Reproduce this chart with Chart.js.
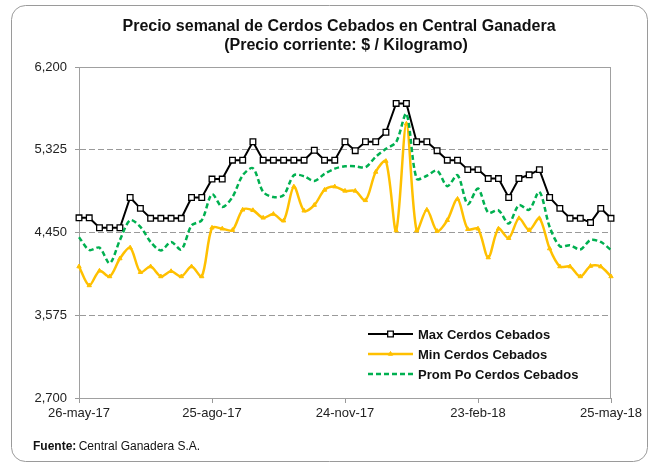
<!DOCTYPE html>
<html>
<head>
<meta charset="utf-8">
<script src="https://cdn.jsdelivr.net/npm/chart.js@4/dist/chart.umd.min.js"></script>
<style>
  html, body { margin: 0; padding: 0; background: #fff; }
  #wrap { width: 652px; height: 464px; position: relative; }
</style>
</head>
<body>
<div id="wrap"><canvas id="precios" width="652" height="464"></canvas></div>
<script>
var meses = ['ene', 'feb', 'mar', 'abr', 'may', 'jun', 'jul', 'ago', 'sep', 'oct', 'nov', 'dic']

// weekly dates, 26-may-17 .. 25-may-18
var semanas = []
var d = new Date(2017, 4, 26)
for (var k = 0; k < 53; k++) {
  semanas.push(d.getDate() + '-' + meses[d.getMonth()] + '-' + String(d.getFullYear()).slice(2))
  d.setDate(d.getDate() + 7)
}

var tickLabels = ['26-may-17', '25-ago-17', '24-nov-17', '23-feb-18', '25-may-18']
var yTicks = [2700, 3575, 4450, 5325, 6200]

var maxCerdos = [
  4605, 4605, 4500, 4500, 4500, 4820, 4705, 4600, 4600, 4600, 4600, 4820, 4820,
  5015, 5015, 5215, 5215, 5410, 5215, 5215, 5215, 5215, 5215, 5320, 5215, 5215,
  5410, 5315, 5410, 5410, 5510, 5815, 5815, 5410, 5410, 5315, 5215, 5215, 5115,
  5115, 5020, 5020, 4820, 5020, 5060, 5115, 4820, 4705, 4600, 4600, 4555, 4705, 4600
]
var minCerdos = [
  4090, 3890, 4045, 3985, 4175, 4290, 4030, 4090, 3985, 4040, 3985, 4090, 3985,
  4500, 4490, 4475, 4690, 4685, 4605, 4645, 4575, 4935, 4680, 4740, 4900, 4935,
  4890, 4890, 4790, 5090, 5205, 4470, 5600, 4470, 4690, 4465, 4580, 4805, 4485,
  4490, 4185, 4490, 4390, 4600, 4475, 4600, 4280, 4090, 4090, 3985, 4095, 4090, 3985
]
var promCerdos = [
  4400, 4265, 4290, 4125, 4370, 4580, 4510, 4350, 4260, 4350, 4270, 4525, 4580,
  4855, 4720, 4825, 5055, 5130, 4880, 4825, 4845, 5055, 5045, 4995, 5070, 5125,
  5150, 5150, 5140, 5250, 5335, 5405, 5705, 5020, 5050, 5105, 4940, 5055, 4750,
  4915, 4660, 4685, 4545, 4740, 4690, 4880, 4510, 4305, 4315, 4270, 4370, 4350, 4265
]

var serieNombres = ['Max Cerdos Cebados', 'Min Cerdos Cebados', 'Prom Po Cerdos Cebados']

var FONT = '"Liberation Sans", Arial, sans-serif'

// frame, titles, legend and source note
var decoracion = {
  id: 'decoracion',
  beforeDraw: function (chart) {
    var c = chart.ctx
    c.save()
    c.strokeStyle = '#9a9a9a'
    c.lineWidth = 1
    c.beginPath()
    c.roundRect(11.5, 5.5, 636, 456, 14)
    c.stroke()
    c.restore()
  },
  beforeDatasetsDraw: function (chart) {
    var a = chart.chartArea
    var c = chart.ctx
    c.save()
    c.strokeStyle = '#a0a0a0'
    c.lineWidth = 1
    c.strokeRect(Math.round(a.left) + 0.5, Math.round(a.top) + 0.5, Math.round(a.right - a.left) - 1, Math.round(a.bottom - a.top))
    c.restore()
  },
  afterDraw: function (chart) {
    var c = chart.ctx
    c.save()
    c.fillStyle = '#111'
    c.textAlign = 'center'
    c.textBaseline = 'middle'
    c.font = 'bold 16px ' + FONT
    c.fillText('Precio semanal de Cerdos Cebados en Central Ganadera', 339, 27)
    c.fillText('(Precio corriente: $ / Kilogramo)', 346, 46)

    // legend
    c.textAlign = 'left'
    c.font = 'bold 13px ' + FONT
    var filas = [334, 354, 374]
    chart.data.datasets.forEach(function (ds, i) {
      var y = filas[i]
      c.save()
      c.strokeStyle = ds.borderColor
      c.lineWidth = ds.borderWidth
      c.setLineDash(ds.borderDash || [])
      c.beginPath()
      c.moveTo(368, y)
      c.lineTo(413, y)
      c.stroke()
      c.restore()
      if (ds.pointRadius > 0) {
        c.save()
        c.fillStyle = ds.pointBackgroundColor
        c.strokeStyle = ds.pointBorderColor
        c.lineWidth = ds.pointBorderWidth
        Chart.helpers.drawPoint(c, { pointStyle: ds.pointStyle, radius: ds.pointRadius, borderWidth: ds.pointBorderWidth, rotation: 0 }, 390.5, y)
        c.restore()
      }
      c.fillStyle = '#111'
      c.fillText(ds.label, 418, y + 1)
    })

    // source
    c.font = 'bold 12px ' + FONT
    c.fillText('Fuente:', 33, 447)
    var w = c.measureText('Fuente: ').width
    c.font = '12px ' + FONT
    c.fillText('Central Ganadera S.A.', 33 + w - 1, 447)
    c.restore()
  }
}

new Chart(document.getElementById('precios'), {
  type: 'line',
  data: {
    labels: semanas,
    datasets: [
      {
        label: serieNombres[0],
        data: maxCerdos,
        borderColor: '#000000',
        borderWidth: 2,
        pointStyle: 'rect',
        pointRadius: 4,
        pointBackgroundColor: '#ffffff',
        pointBorderColor: '#000000',
        pointBorderWidth: 1.3,
        tension: 0,
        order: 3
      },
      {
        label: serieNombres[1],
        data: minCerdos,
        borderColor: '#FFC000',
        borderWidth: 2.5,
        pointStyle: 'triangle',
        pointRadius: 2.5,
        pointBackgroundColor: '#FFC000',
        pointBorderColor: '#FFC000',
        pointBorderWidth: 1,
        tension: 0.3,
        order: 2
      },
      {
        label: serieNombres[2],
        data: promCerdos,
        borderColor: '#00B050',
        borderWidth: 2.5,
        borderDash: [5, 3],
        pointRadius: 0,
        tension: 0.3,
        order: 1
      }
    ]
  },
  options: {
    responsive: false,
    animation: false,
    layout: { padding: { top: 67, right: 41, bottom: 0, left: 0 } },
    plugins: {
      legend: { display: false },
      title: { display: false },
      tooltip: { enabled: false }
    },
    scales: {
      x: {
        offset: false,
        afterFit: function (s) { s.height = 66 },
        grid: {
          drawOnChartArea: false,
          tickLength: 5,
          color: function (ctx) {
            return tickLabels.indexOf(semanas[ctx.index]) >= 0 ? '#999' : 'rgba(0,0,0,0)'
          }
        },
        border: { color: '#a0a0a0' },
        ticks: {
          autoSkip: false,
          maxRotation: 0,
          padding: 3,
          color: '#222',
          font: { family: FONT, size: 13 },
          callback: function (v, i) {
            var l = semanas[i]
            return tickLabels.indexOf(l) >= 0 ? l : ''
          }
        }
      },
      y: {
        min: yTicks[0],
        max: yTicks[yTicks.length - 1],
        afterFit: function (s) { s.width = 79 },
        afterBuildTicks: function (s) {
          s.ticks = yTicks.map(function (v) { return { value: v } })
        },
        grid: { color: '#9a9a9a', tickLength: 4 },
        border: { color: '#a0a0a0', dash: [6, 3] },
        ticks: {
          padding: 8,
          color: '#222',
          font: { family: FONT, size: 13 },
          callback: function (v) { return v.toLocaleString('en-US') }
        }
      }
    }
  },
  plugins: [decoracion]
})
</script>
</body>
</html>
